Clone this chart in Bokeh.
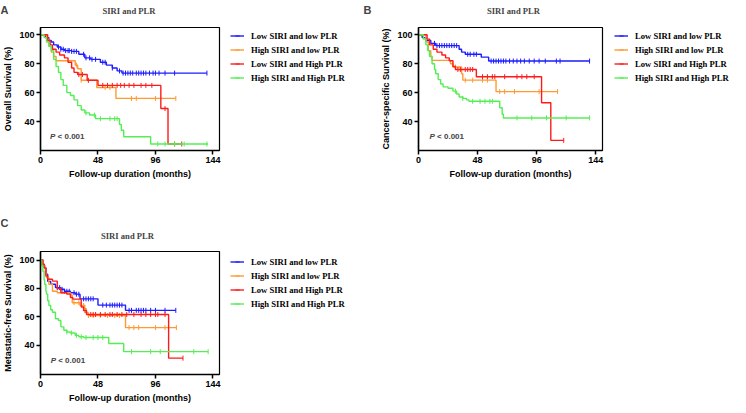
import numpy as np
from bokeh.plotting import figure
from bokeh.models import Range1d, FixedTicker, Label, Legend, LegendItem, Spacer
from bokeh.layouts import column, row
from bokeh.embed import file_html
from bokeh.resources import INLINE

groups = ["Low SIRI and low PLR", "High SIRI and low PLR",
          "Low SIRI and High PLR", "High SIRI and High PLR"]
colors = ["#1c1cff", "#ff9a33", "#ff1a1a", "#55ee55"]
x_ticks = [0, 48, 96, 144]
y_ticks = [40, 60, 80, 100]
panel_title = "SIRI and PLR"
x_label = "Follow-up duration (months)"
p_text = "< 0.001"

# ---------------- Panel A: Overall Survival ----------------
a_blue_t = [0, 4, 7, 9, 11, 14, 17, 20, 26, 32, 37, 42, 50, 55, 60, 64, 68, 139]
a_blue_s = [100, 98, 96, 95, 93, 91.5, 90, 89, 88.5, 86.5, 84, 83, 81, 79, 77, 75, 73.5, 73.5]
a_blue_c = [15, 17, 19, 21, 23, 24, 26, 28, 30, 36, 38, 41, 43, 46, 52, 54, 60, 66, 69, 71, 73,
            75, 77, 80, 82, 84, 86, 88, 91, 94, 96, 99, 104, 112, 139]
a_orange_t = [0, 5, 7, 9, 11, 13, 29, 31, 34, 47, 63, 113]
a_orange_s = [100, 97, 92, 88, 85, 82, 79, 76.5, 68.5, 63.5, 56, 56]
a_orange_c = [30, 34, 54, 58, 76, 80, 96, 113]
a_red_t = [0, 6, 8, 10, 13, 16, 20, 23, 26, 28, 31, 39, 48, 100.5, 106.5, 118]
a_red_s = [100, 96, 93, 90, 88, 86, 84, 81, 77, 74, 72.5, 68.5, 65, 49, 24.5, 24.5]
a_red_c = [32, 35, 40, 52, 56, 60, 64, 67, 70, 74, 78, 84, 88, 93, 104, 112, 118]
a_green_t = [0, 3, 5, 7, 9, 11, 13, 15, 17, 19, 22, 25, 28, 31, 34, 37, 41, 46, 66, 67.5, 69.5, 92, 140]
a_green_s = [100, 98, 95, 92, 89, 83, 78, 74, 69, 65, 60, 58, 55, 51, 48, 46, 44.5, 42, 38, 34, 29.5, 24.5, 24.5]
a_green_c = [38, 45, 50, 58, 62, 64, 98, 104, 112, 120, 139]

# ---------------- Panel B: Cancer-specific Survival ----------------
b_blue_t = [0, 3, 6, 10, 14, 33, 35, 38, 51, 57, 139]
b_blue_s = [100, 98, 96, 94, 92.5, 90, 88, 86.5, 84.5, 81.8, 81.8]
b_blue_c = [13, 15, 17, 19, 21, 23, 25, 27, 29, 31, 40, 42, 45, 47, 59, 61, 63, 65, 67, 69, 71,
            74, 77, 80, 83, 86, 90, 94, 98, 103, 112, 115, 139]
b_orange_t = [0, 6, 8, 10, 11, 26, 28, 35, 36, 63, 113]
b_orange_s = [100, 95, 89, 85, 82.3, 80, 77.7, 73, 68.6, 60.7, 60.7]
b_orange_c = [30, 38, 44, 52, 56, 66, 70, 78, 98, 113]
b_red_t = [0, 7, 9, 12, 15, 19, 22, 25, 28, 30, 47, 100, 107.5, 118]
b_red_s = [100, 97, 93, 90, 88, 86, 84, 82, 78, 76, 71, 53, 27, 27]
b_red_c = [32, 34, 38, 40, 42, 44, 52, 56, 60, 62, 70, 80, 84, 88, 94, 118]
b_green_t = [0, 4, 6, 7.5, 9, 11, 13, 14, 16, 18, 20, 24, 28, 31, 33, 36, 39, 41, 66, 68, 69, 139]
b_green_s = [100, 97, 93, 89, 85, 80, 76, 73, 69, 66, 64, 63, 61, 59, 57, 56, 55, 54, 49.5, 45, 42.5, 42.5]
b_green_c = [30, 36, 44, 50, 54, 58, 60, 80, 92, 104, 120, 139]

# ---------------- Panel C: Metastatic-free Survival ----------------
c_blue_t = [0, 2, 3, 4.5, 6, 8.5, 12.5, 17, 20, 25, 29, 33, 48, 71, 113]
c_blue_s = [100, 97, 94.5, 90, 85, 83, 80.6, 79.4, 78, 77, 76, 72.7, 68.3, 64.6, 64.6]
c_blue_c = [14, 16, 18, 20, 22, 24, 28, 30, 32, 36, 38, 40, 42, 44, 52, 55, 58, 60, 62, 64, 66,
            68, 74, 76, 80, 82, 84, 86, 88, 92, 96, 104, 113]
c_orange_t = [0, 2, 4, 5, 7, 10, 14, 25, 26.5, 33, 37, 40, 71, 113.5]
c_orange_s = [100, 96, 91, 87.5, 83, 78, 77, 75.5, 70, 68, 63, 61, 52.5, 52.5]
c_orange_c = [28, 32, 36, 40, 44, 50, 56, 62, 66, 74, 78, 82, 96, 104, 113.5]
c_red_t = [0, 2, 3, 4.5, 6, 10, 14, 17, 22, 25, 27, 34, 36, 38.5, 107, 119]
c_red_s = [100, 97, 94.5, 88.7, 86.5, 85.2, 80, 77, 76, 73.7, 72.5, 67, 64.4, 61.7, 31, 31]
c_red_c = [38, 42, 44, 46, 50, 54, 58, 60, 64, 68, 72, 78, 84, 88, 92, 96, 98, 104, 119]
c_green_t = [0, 1, 2, 3, 3.5, 4.5, 5, 6, 7, 8.5, 10, 12.5, 15, 17, 19.5, 22, 25, 29, 32, 36, 57, 69.5, 140]
c_green_s = [100, 96, 92, 86, 83, 78, 76, 71.4, 68, 65, 63.3, 58.7, 57.5, 53, 50.6, 49.4, 48.7, 47, 46,
             45.5, 41.3, 35.6, 35.6]
c_green_c = [22, 26, 30, 34, 38, 44, 48, 52, 76, 92, 100, 128, 140]

SANS = "Liberation Sans"
SERIF = "Liberation Serif"


def surv_at(times, surv, when):
    t = np.asarray(times, dtype=float)
    s = np.asarray(surv, dtype=float)
    idx = np.searchsorted(t, np.asarray(when, dtype=float), side="right") - 1
    idx = np.clip(idx, 0, len(s) - 1)
    return s[idx]


def blank(width, height):
    p = figure(width=width, height=height, output_backend="svg", toolbar_location=None,
               title=None, x_range=Range1d(0, 1), y_range=Range1d(0, 1),
               x_axis_location=None, y_axis_location=None,
               min_border_left=0, min_border_right=0, min_border_top=0, min_border_bottom=0)
    p.outline_line_color = None
    p.background_fill_color = "white"
    p.border_fill_color = "white"
    p.grid.visible = False
    return p


def make_panel(ylabel, series, width, height, borders, y_range, p_pos):
    left, right, top, bottom = borders
    p = figure(width=width, height=height, output_backend="svg", toolbar_location=None,
               title=None, x_range=Range1d(0, 149.5), y_range=Range1d(*y_range),
               min_border_left=left, min_border_right=right,
               min_border_top=top, min_border_bottom=bottom)
    p.background_fill_color = "white"
    p.border_fill_color = "white"
    p.outline_line_color = "black"
    p.outline_line_width = 1.2
    p.grid.visible = False

    for ax in (p.xaxis[0], p.yaxis[0]):
        ax.axis_line_width = 1.5
        ax.axis_line_color = "black"
        ax.major_tick_line_width = 1.5
        ax.major_tick_line_color = "black"
        ax.major_tick_out = 4
        ax.major_tick_in = 0
        ax.minor_tick_line_color = None
        ax.major_label_text_font = SANS
        ax.major_label_text_font_style = "bold"
        ax.major_label_text_font_size = "9px"
        ax.major_label_text_color = "black"
        ax.major_label_standoff = 2
        ax.axis_label_text_font = SANS
        ax.axis_label_text_font_style = "bold"
        ax.axis_label_text_font_size = "9px"
        ax.axis_label_text_color = "black"
        ax.axis_label_standoff = 3
    p.xaxis[0].ticker = FixedTicker(ticks=x_ticks)
    p.yaxis[0].ticker = FixedTicker(ticks=y_ticks)
    p.xaxis[0].axis_label = x_label
    p.yaxis[0].axis_label = ylabel

    for color, (t, s, c) in zip(colors, series):
        p.step(x=t, y=s, mode="after", line_color=color, line_width=1.4)
        p.scatter(x=c, y=surv_at(t, s, c), marker="dash", angle=np.pi / 2, size=5,
                  line_color=color, line_width=1)

    p.add_layout(Label(x=p_pos[0], y=p_pos[1], text="P", text_font=SANS,
                       text_font_style="bold italic", text_font_size="8px",
                       text_baseline="middle", text_align="left"))
    p.add_layout(Label(x=p_pos[0], y=p_pos[1], x_offset=7.5, text=p_text, text_font=SANS,
                       text_font_style="bold", text_font_size="8px",
                       text_baseline="middle", text_align="left"))
    return p


def legend_block(gap, top, width, height, series):
    p = blank(width, height - top)
    items = []
    for name, color, (t, s, c) in zip(groups, colors, series):
        lr = p.step(x=t, y=s, mode="after", line_color=color, line_width=1.4, visible=False)
        cr = p.scatter(x=c, y=surv_at(t, s, c), marker="dash", angle=np.pi / 2, size=5,
                       line_color=color, line_width=1, visible=False)
        items.append(LegendItem(label=name, renderers=[lr, cr]))
    legend = Legend(items=items, location="top_left", orientation="vertical",
                    label_text_font=SERIF, label_text_font_style="bold",
                    label_text_font_size="8.6px", label_text_color="black",
                    glyph_width=14, glyph_height=11, label_height=11, spacing=3,
                    label_standoff=7, padding=0, margin=0,
                    border_line_color=None, background_fill_alpha=0,
                    inactive_fill_alpha=0)
    p.add_layout(legend)
    return row(Spacer(width=gap, height=height),
               column(Spacer(width=width, height=top), p))


def header_fig(width, height, letters, titles):
    p = blank(width, height)
    for text, x, y in letters:
        p.add_layout(Label(x=x, y=y, x_units="screen", y_units="screen", text=text,
                           text_font=SANS, text_font_style="bold", text_font_size="11px",
                           text_baseline="middle", text_align="left"))
    for x, y in titles:
        p.add_layout(Label(x=x, y=y, x_units="screen", y_units="screen", text=panel_title,
                           text_font=SERIF, text_font_style="bold", text_font_size="8.6px",
                           text_baseline="middle", text_align="center"))
    return p


A = [(a_blue_t, a_blue_s, a_blue_c), (a_orange_t, a_orange_s, a_orange_c),
     (a_red_t, a_red_s, a_red_c), (a_green_t, a_green_s, a_green_c)]
B = [(b_blue_t, b_blue_s, b_blue_c), (b_orange_t, b_orange_s, b_orange_c),
     (b_red_t, b_red_s, b_red_c), (b_green_t, b_green_s, b_green_c)]
C = [(c_blue_t, c_blue_s, c_blue_c), (c_orange_t, c_orange_s, c_orange_c),
     (c_red_t, c_red_s, c_red_c), (c_green_t, c_green_s, c_green_c)]

head1 = header_fig(730, 18, [("A", 0, 8.5), ("B", 363, 8.5)], [(128.5, 7.5), (513, 7.5)])
head2 = header_fig(730, 37, [("C", 0, 20)], [(127, 7)])

pa = make_panel("Overall Survival (%)", A, 224, 187, (33, 5, 9, 55), (20, 105), (8, 29.7))
pb = make_panel("Cancer-specific Survival (%)", B, 244, 187, (55, 5, 9, 55), (20, 105), (9, 29.8))
pc = make_panel("Metastatic-free Survival (%)", C, 224, 163, (33, 5, 9, 30), (19.5, 106), (8.5, 29.1))

leg_a = legend_block(6, 12, 133, 187, A)
leg_b = legend_block(7, 12, 116, 187, B)
leg_c = legend_block(6, 14, 133, 163, C)

layout = column(head1, row(pa, leg_a, pb, leg_b), head2, row(pc, leg_c))
open("out.html", "w").write(file_html(layout, INLINE))
